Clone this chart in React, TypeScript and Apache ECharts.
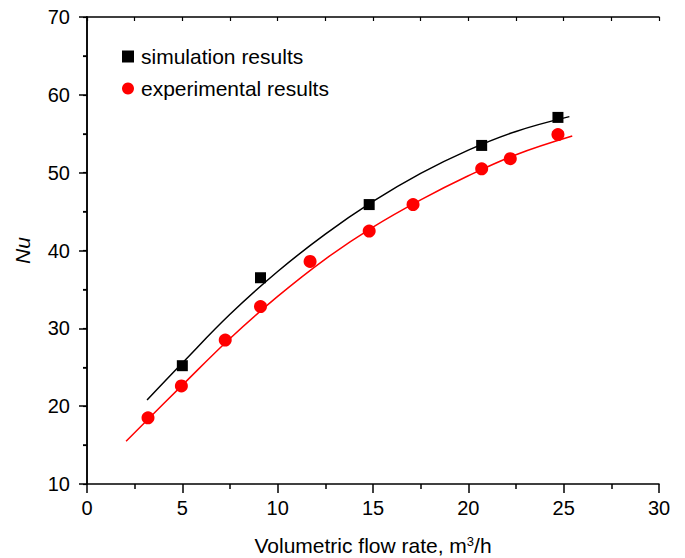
import React, { useEffect, useRef } from "react";
import * as echarts from "echarts";

const simX = [5.0, 9.1, 14.8, 20.7, 24.7];
const simY = [25.2, 36.5, 45.9, 53.5, 57.1];

const expX = [3.2, 4.95, 7.25, 9.1, 11.7, 14.8, 17.1, 20.7, 22.2, 24.7];
const expY = [18.5, 22.6, 28.5, 32.8, 38.6, 42.5, 45.9, 50.5, 51.8, 54.9];

// fitted curves
const simFitX = [3.15, 5, 7.5, 10, 12.5, 15, 17.5, 20, 22.5, 25.3];
const simFitY = [20.8, 25.55, 31.8, 37.3, 42.1, 46.3, 49.9, 52.9, 55.3, 57.2];

const expFitX = [2.05, 5, 7.5, 10, 12.5, 15, 17.5, 20, 22.5, 25.45];
const expFitY = [15.5, 22.7, 28.7, 34.1, 38.9, 43.0, 46.5, 49.6, 52.3, 54.7];

const FONT = "'Liberation Sans', Arial, sans-serif";

const zip = (xs: number[], ys: number[]) => xs.map((x, i) => [x, ys[i]]);

export default function App() {
  const ref = useRef<HTMLDivElement>(null);
  useEffect(() => {
    if (!ref.current) return;
    const chart = echarts.init(ref.current, null, { renderer: "svg" });
    const axisLine = { show: true, lineStyle: { color: "#000", width: 1.5 } };
    chart.setOption({
      animation: false,
      backgroundColor: "#fff",
      textStyle: { fontFamily: FONT },
      grid: { left: 87, right: 26, top: 17, bottom: 74, containLabel: false, outerBoundsMode: "none" },
      legend: {
        orient: "vertical",
        left: 117,
        top: 41,
        itemWidth: 12,
        itemHeight: 12,
        itemGap: 11,
        data: ["simulation results", "experimental results"],
        textStyle: { fontSize: 21, color: "#000", fontFamily: FONT, lineHeight: 19, padding: [0, 0, 0, 2] },
      },
      xAxis: [
        {
          type: "value",
          min: 0,
          max: 30,
          interval: 5,
          position: "bottom",
          name: "{a|Volumetric flow rate, m}{s|3}{a|/h}",
          nameLocation: "middle",
          nameGap: 51,
          nameTextStyle: {
            rich: {
              a: { fontSize: 21, color: "#000", fontFamily: FONT },
              s: { fontSize: 13, color: "#000", fontFamily: FONT, verticalAlign: "top", lineHeight: 13 },
            },
          },
          axisLine,
          axisTick: { show: true, inside: false, length: 9, lineStyle: { color: "#000", width: 1.5 } },
          minorTick: { show: true, splitNumber: 2, length: 5, lineStyle: { color: "#000", width: 1.5 } },
          axisLabel: { fontSize: 20, color: "#000", margin: 14, fontFamily: FONT },
          splitLine: { show: false },
          minorSplitLine: { show: false },
        },
        {
          type: "value",
          min: 0,
          max: 30,
          interval: 2.5,
          position: "top",
          axisLine,
          axisTick: { show: true, inside: true, length: 4, lineStyle: { color: "#000", width: 1.2 } },
          axisLabel: { show: false },
          splitLine: { show: false },
        },
      ],
      yAxis: [
        {
          type: "value",
          min: 10,
          max: 70,
          interval: 10,
          position: "left",
          name: "Nu",
          nameLocation: "middle",
          nameGap: 54,
          nameTextStyle: { fontSize: 21, fontStyle: "italic", color: "#000", fontFamily: FONT },
          axisLine,
          axisTick: { show: true, inside: false, length: 8, lineStyle: { color: "#000", width: 1.5 } },
          minorTick: { show: true, splitNumber: 2, length: 4, lineStyle: { color: "#000", width: 1.5 } },
          axisLabel: { fontSize: 20, color: "#000", margin: 17, fontFamily: FONT },
          splitLine: { show: false },
          minorSplitLine: { show: false },
        },
        {
          type: "value",
          min: 10,
          max: 70,
          interval: 5,
          position: "right",
          axisLine,
          axisTick: { show: true, inside: true, length: 4, lineStyle: { color: "#000", width: 1.2 } },
          axisLabel: { show: false },
          splitLine: { show: false },
        },
      ],
      series: [
        {
          name: "simulation fit",
          type: "line",
          data: zip(simFitX, simFitY),
          smooth: 0.4,
          showSymbol: false,
          lineStyle: { color: "#000", width: 1.5 },
          z: 2,
        },
        {
          name: "experimental fit",
          type: "line",
          data: zip(expFitX, expFitY),
          smooth: 0.4,
          showSymbol: false,
          lineStyle: { color: "#ff0000", width: 1.5 },
          z: 2,
        },
        {
          name: "simulation results",
          type: "scatter",
          symbol: "rect",
          symbolSize: 11,
          data: zip(simX, simY),
          itemStyle: { color: "#000", opacity: 1 },
          z: 3,
        },
        {
          name: "experimental results",
          type: "scatter",
          symbol: "circle",
          symbolSize: 13,
          data: zip(expX, expY),
          itemStyle: { color: "#ff0000", opacity: 1 },
          z: 3,
        },
      ],
    });
    return () => chart.dispose();
  }, []);
  return (
    <div
      ref={ref}
      style={{ position: "fixed", left: 0, top: 0, width: 685, height: 558, background: "#fff" }}
    />
  );
}
